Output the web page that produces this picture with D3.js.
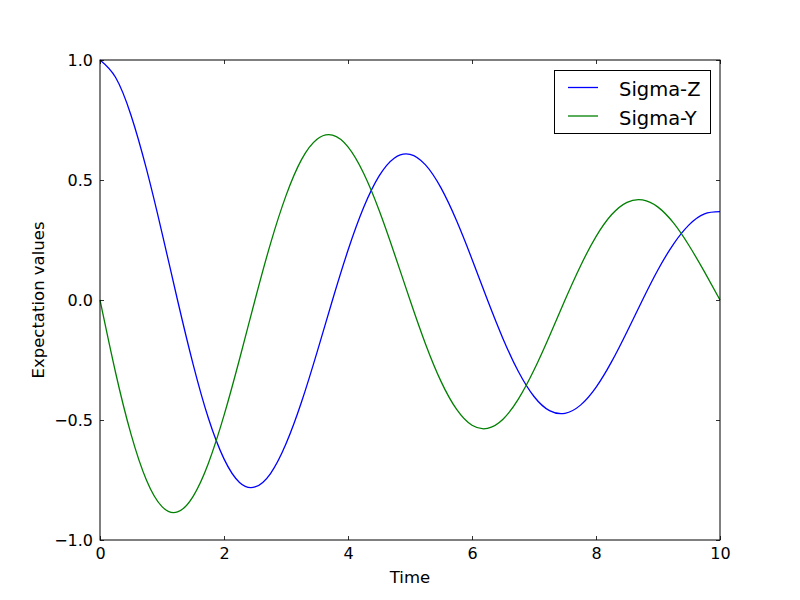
<!DOCTYPE html>
<html>
<head>
<meta charset="utf-8">
<script src="https://cdn.jsdelivr.net/npm/d3@7"></script>
<style>
  body { margin: 0; background: #fff; }
  svg text { font-family: "DejaVu Sans", sans-serif; }
</style>
</head>
<body>
<div id="chart"></div>
<script>
//--------------------------- Data

var times = [0, 0.25, 0.5, 0.75, 1, 1.25, 1.5, 1.75, 2, 2.25, 2.5, 2.75, 3, 3.25, 3.5, 3.75, 4, 4.25, 4.5, 4.75,
             5, 5.25, 5.5, 5.75, 6, 6.25, 6.5, 6.75, 7, 7.25, 7.5, 7.75, 8, 8.25, 8.5, 8.75, 9, 9.25, 9.5, 9.75, 10];

var sigmaZ = [1.000, 0.928, 0.770, 0.545, 0.280, 0.000, -0.266, -0.494, -0.662, -0.760, -0.779, -0.723, -0.599, -0.425, -0.218, 0.000,
              0.207, 0.384, 0.516, 0.592, 0.607, 0.563, 0.467, 0.331, 0.170, 0.000, -0.161, -0.299, -0.402, -0.461, -0.472,
              -0.438, -0.364, -0.258, -0.132, 0.000, 0.126, 0.233, 0.313, 0.359, 0.368];

var sigmaY = [0.000, -0.301, -0.559, -0.751, -0.861, -0.883, -0.819, -0.679, -0.481, -0.247, 0.000, 0.235, 0.435, 0.585, 0.670, 0.687,
              0.638, 0.529, 0.375, 0.192, 0.000, -0.183, -0.339, -0.455, -0.522, -0.535, -0.497, -0.412, -0.292, -0.150, 0.000,
              0.142, 0.264, 0.355, 0.407, 0.417, 0.387, 0.321, 0.227, 0.117, 0.000];

var seriesNames = ["Sigma-Z", "Sigma-Y"];
var seriesColors = ["#0000ff", "#008000"];
var xTicks = [0, 2, 4, 6, 8, 10];
var yTicks = [-1.0, -0.5, 0.0, 0.5, 1.0];

//--------------------------- SVG definition

var width = 800;
var height = 600;

var svg = d3.select("#chart")
    .append("svg")
    .attr("width", width)
    .attr("height", height);

var plotLeft = 100, plotRight = 720, plotTop = 60, plotBottom = 540;

var x = d3.scaleLinear().domain([0, 10]).range([plotLeft, plotRight]);
var y = d3.scaleLinear().domain([-1, 1]).range([plotBottom, plotTop]);

var tickSize = 4;
var tickLabelSize = 16;
var axisLabelSize = 16.5;
var legendSize = 19.5;
var curveWidth = 1.3;

//--------------------------- Curves

var line = d3.line()
    .x(function (d) { return x(d[0]); })
    .y(function (d) { return y(d[1]); })
    .curve(d3.curveNatural);

var allSeries = [sigmaZ, sigmaY];

var plot = svg.append("g");

for (var k = 0; k < allSeries.length; k++) {
    var pts = times.map(function (t, i) { return [t, allSeries[k][i]]; });
    plot.append("path")
        .attr("d", line(pts))
        .attr("fill", "none")
        .attr("stroke", seriesColors[k])
        .attr("stroke-width", curveWidth);
}

//--------------------------- Axes (ticks inside, on all four sides)

var axisBottom = svg.append("g")
    .attr("transform", "translate(0," + plotBottom + ")")
    .call(d3.axisBottom(x).tickValues(xTicks).tickSizeInner(-tickSize).tickSizeOuter(0).tickPadding(8)
        .tickFormat(d3.format("d")));

var axisTop = svg.append("g")
    .attr("transform", "translate(0," + plotTop + ")")
    .call(d3.axisTop(x).tickValues(xTicks).tickSizeInner(-tickSize).tickSizeOuter(0).tickFormat(""));

var axisLeft = svg.append("g")
    .attr("transform", "translate(" + plotLeft + ",0)")
    .call(d3.axisLeft(y).tickValues(yTicks).tickSizeInner(-tickSize).tickSizeOuter(0).tickPadding(7)
        .tickFormat(function (d) { return d3.format(".1f")(d).replace("-", "\u2212"); }));

var axisRight = svg.append("g")
    .attr("transform", "translate(" + plotRight + ",0)")
    .call(d3.axisRight(y).tickValues(yTicks).tickSizeInner(-tickSize).tickSizeOuter(0).tickFormat(""));

[axisBottom, axisTop, axisLeft, axisRight].forEach(function (a) {
    a.select(".domain").remove();
    a.selectAll("line").attr("stroke", "#000").attr("stroke-width", 0.8);
    a.selectAll("text")
        .attr("fill", "#000")
        .attr("font-family", "DejaVu Sans, sans-serif")
        .attr("font-size", tickLabelSize);
});

svg.append("rect")
    .attr("x", plotLeft)
    .attr("y", plotTop)
    .attr("width", plotRight - plotLeft)
    .attr("height", plotBottom - plotTop)
    .attr("fill", "none")
    .attr("stroke", "#000")
    .attr("stroke-width", 1);

//--------------------------- Axis labels

svg.append("text")
    .attr("x", (plotLeft + plotRight) / 2)
    .attr("y", 583)
    .attr("text-anchor", "middle")
    .attr("font-size", axisLabelSize)
    .text("Time");

svg.append("text")
    .attr("transform", "translate(44," + ((plotTop + plotBottom) / 2) + ") rotate(-90)")
    .attr("text-anchor", "middle")
    .attr("font-size", axisLabelSize)
    .text("Expectation values");

//--------------------------- Legend

var legend = svg.append("g");

legend.append("rect")
    .attr("x", 554.5)
    .attr("y", 70.5)
    .attr("width", 156)
    .attr("height", 63)
    .attr("fill", "#fff")
    .attr("stroke", "#000")
    .attr("stroke-width", 1);

for (var j = 0; j < seriesNames.length; j++) {
    legend.append("line")
        .attr("x1", 568)
        .attr("x2", 598)
        .attr("y1", 87.5 + j * 28.5)
        .attr("y2", 87.5 + j * 28.5)
        .attr("stroke", seriesColors[j])
        .attr("stroke-width", curveWidth);

    legend.append("text")
        .attr("x", 619)
        .attr("y", 96.3 + j * 28.5)
        .attr("font-size", legendSize)
        .text(seriesNames[j]);
}
</script>
</body>
</html>
